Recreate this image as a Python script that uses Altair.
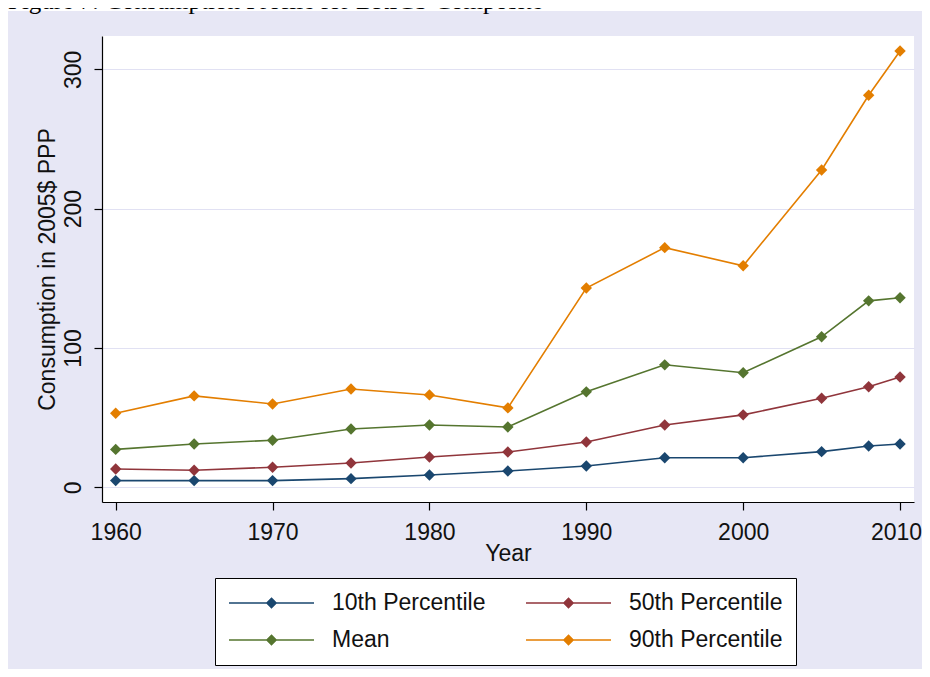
import altair as alt
import pandas as pd

# ---- data ----
years = [1960, 1965, 1970, 1975, 1980, 1985, 1990, 1995, 2000, 2005, 2008, 2010]
p10 = [4.8, 4.8, 4.8, 6.2, 8.8, 11.7, 15.3, 21.2, 21.2, 25.6, 29.6, 31.1]
p50 = [13.1, 12.2, 14.4, 17.4, 21.7, 25.3, 32.5, 44.7, 52.0, 63.9, 72.2, 79.2]
mean = [27.2, 31.1, 33.8, 41.8, 44.7, 43.3, 68.5, 87.9, 82.2, 108.0, 133.8, 136.0]
p90 = [53.2, 65.6, 59.8, 70.6, 66.3, 57.0, 143.0, 172.0, 159.0, 227.7, 281.4, 313.1]

series_names = ["10th Percentile", "50th Percentile", "Mean", "90th Percentile"]
series_colors = ["#1a476f", "#90353b", "#55752f", "#e37e00"]
x_ticks = [1960, 1970, 1980, 1990, 2000, 2010]
y_ticks = [0, 100, 200, 300]
fig_title = ["Figure 7: Consumption Profile for BRICS Composite"]

rows = []
for name, vals in zip(series_names, [p10, p50, mean, p90]):
    for yr, v in zip(years, vals):
        rows.append({"Year": yr, "Value": v, "Series": name})
df = pd.DataFrame(rows)

# ---- layout ----
W, H = 812, 466
PAD_L, PAD_T = 94, 28
TOTAL_W, TOTAL_H = 914, 661
FONT = "Liberation Sans"
BG = "#E7E7F5"

legend_symbol = (
    "M-1,0L1,0"
    "M0,-0.11L0.11,0L0,0.11L-0.11,0Z"
    "M0,-0.075L0.075,0L0,0.075L-0.075,0Z"
    "M0,-0.04L0.04,0L0,0.04L-0.04,0Z"
)

x_enc = alt.X(
    "Year:Q",
    scale=alt.Scale(domain=[1959.127, 2010.89], nice=False, zero=False),
    axis=alt.Axis(
        values=x_ticks, format="d", title="Year", grid=False,
        domainColor="#000000", domainWidth=1.2,
        tickColor="#000000", tickWidth=1.2, tickSize=8,
        labelFont=FONT, labelFontSize=23, labelColor="#111111",
        labelBaseline="alphabetic", labelAlign="center", labelPadding=29,
        labelOffset=alt.ExprRef("datum.value == 2010 ? -4 : 0"),
        labelFlush=False, labelOverlap=False,
        titleFont=FONT, titleFontSize=23, titleFontWeight="normal", titleColor="#111111",
        titleX=W / 2, titleY=58, titleBaseline="alphabetic", titleAlign="center",
    ),
)

y_enc = alt.Y(
    "Value:Q",
    scale=alt.Scale(domain=[-10.55, 323.9], nice=False, zero=False),
    axis=alt.Axis(
        values=y_ticks, format="d", title="Consumption in 2005$ PPP",
        grid=True, gridColor="#E1E1F3", gridWidth=1.2,
        domainColor="#000000", domainWidth=1.2,
        tickColor="#000000", tickWidth=1.2, tickSize=8,
        labelFont=FONT, labelFontSize=23, labelColor="#111111",
        labelAngle=270, labelAlign="center", labelBaseline="alphabetic",
        labelPadding=14, labelFlush=False, labelOverlap=False,
        titleFont=FONT, titleFontSize=23, titleFontWeight="normal", titleColor="#111111",
        titleAngle=270, titleX=-47.5, titleY=H / 2,
        titleBaseline="alphabetic", titleAlign="center",
    ),
)

color_enc = alt.Color(
    "Series:N",
    scale=alt.Scale(domain=series_names, range=series_colors),
    sort=series_names,
    legend=alt.Legend(
        title=None, orient="none", legendX=113, legendY=542,
        direction="horizontal", columns=2,
        padding=13, fillColor="white", strokeColor="#000000",
        symbolType=legend_symbol, symbolSize=7225, symbolStrokeWidth=1.5,
        symbolOpacity=1, clipHeight=24,
        labelFont=FONT, labelFontSize=23, labelColor="#111111",
        labelOffset=17, columnPadding=39, rowPadding=13,
    ),
)

lines = alt.Chart(df).mark_line(
    strokeWidth=1.6,
    point=alt.OverlayMarkDef(shape="diamond", filled=True, size=130, opacity=1),
).encode(x=x_enc, y=y_enc, color=color_enc, order="Year:Q")

strip = alt.Chart(pd.DataFrame({"a": [0]})).mark_rect(color="white").encode(
    x=alt.value(-PAD_L), x2=alt.value(TOTAL_W - PAD_L),
    y=alt.value(-PAD_T), y2=alt.value(-PAD_T + 3),
)

title_text = alt.Chart(pd.DataFrame({"t": fig_title})).mark_text(
    font="Liberation Serif", fontSize=25, align="left", baseline="alphabetic",
    color="#000000",
).encode(text="t:N", x=alt.value(-PAD_L), y=alt.value(-PAD_T + 1))

chart = alt.layer(strip, title_text, lines).properties(
    width=W, height=H,
    autosize=alt.AutoSizeParams(type="none"),
    padding={"left": PAD_L, "top": PAD_T, "right": TOTAL_W - PAD_L - W,
             "bottom": TOTAL_H - PAD_T - H},
).configure(background=BG).configure_view(fill="white", stroke=None)

chart.save("out.html", embed_options={"renderer": "svg", "actions": False})
